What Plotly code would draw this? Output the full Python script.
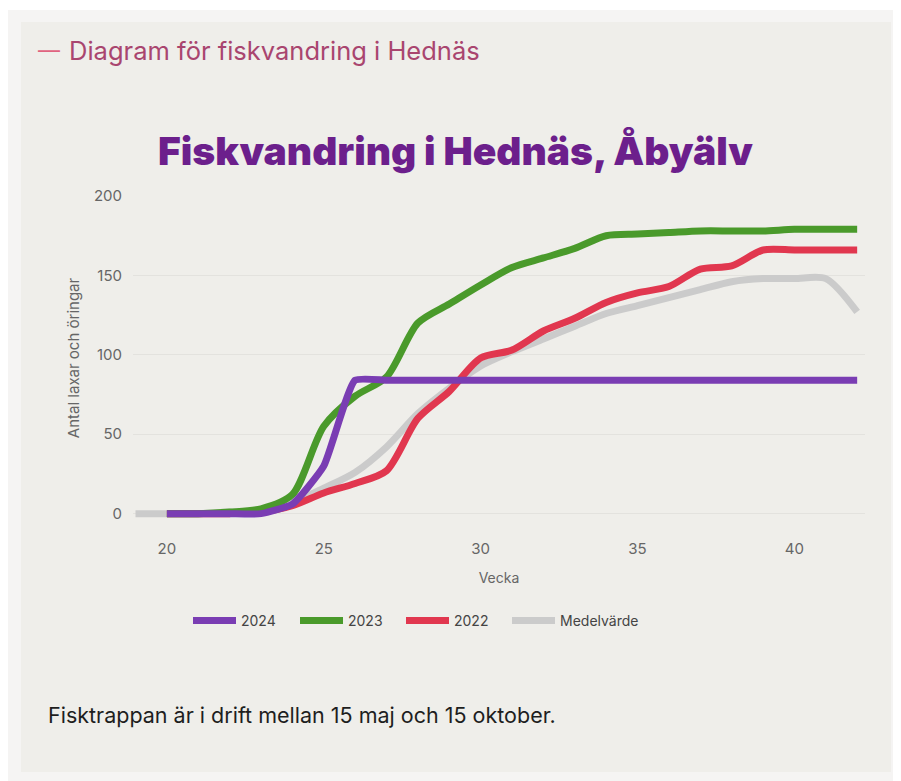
import plotly.graph_objects as go

# ---- data ----
weeks_avg = list(range(19, 43))
weeks = list(range(20, 43))

v2024 = [0, 0, 0, 0, 6, 30, 84, 84, 84, 84, 84, 84, 84, 84, 84, 84, 84, 84, 84, 84, 84, 84, 84]
v2023 = [0, 0, 1, 3, 12, 55, 74, 86, 120, 132, 144, 155, 161, 167, 175, 176, 177, 178, 178, 178, 179, 179, 179]
v2022 = [0, 0, 0, 1, 5, 13, 19, 27, 60, 77, 98, 103, 115, 123, 133, 139, 143, 154, 156, 166, 166, 166, 166]
vavg = [0, 0, 0, 1, 2, 7, 16, 26, 42, 63, 79, 93, 102, 110, 118, 126, 131, 136, 141, 146, 148, 148, 148, 127]

colors = {"2024": "#7a3db3", "2023": "#4a9a2b", "2022": "#e1374f", "Medelvärde": "#cbcbcb"}

# page has an 8px body margin; figure sized so the page is 901x781
OFF = 8
W, H = 901 - OFF, 781 - OFF
# plot area in reference-page pixels
L_ref, R_ref, T_ref, B_ref = 133, 865, 196, 520
L, R, T, B = L_ref - OFF, R_ref - OFF, T_ref - OFF, B_ref - OFF


def px(x):
    return (x - OFF - L) / (R - L)


def py(y):
    return (B - (y - OFF)) / (B - T)


fig = go.Figure()

# draw order: grey, red, green, purple (purple on top); each has its own legend box
fig.add_trace(go.Scatter(x=weeks_avg, y=vavg, name="Medelvärde", mode="lines", legend="legend4",
                         line=dict(color=colors["Medelvärde"], width=7, shape="spline", smoothing=0.8)))
fig.add_trace(go.Scatter(x=weeks, y=v2022, name="2022", mode="lines", legend="legend3",
                         line=dict(color=colors["2022"], width=7, shape="spline", smoothing=0.8)))
fig.add_trace(go.Scatter(x=weeks, y=v2023, name="2023", mode="lines", legend="legend2",
                         line=dict(color=colors["2023"], width=7, shape="spline", smoothing=0.8)))
fig.add_trace(go.Scatter(x=weeks, y=v2024, name="2024", mode="lines", legend="legend",
                         line=dict(color=colors["2024"], width=7, shape="spline", smoothing=0.45)))

shapes = [
    dict(type="rect", xref="paper", yref="paper", layer="below",
         x0=px(8), x1=px(905), y0=py(10), y1=py(790),
         fillcolor="#f5f4f3", line=dict(width=0)),
    dict(type="rect", xref="paper", yref="paper", layer="below",
         x0=px(21), x1=px(891), y0=py(22), y1=py(772),
         fillcolor="#efeeea", line=dict(width=0)),
]

font_family = "Inter, Lato, sans-serif"

annotations = [
    dict(text="—", x=px(36), y=py(50), xref="paper", yref="paper", xanchor="left", yanchor="middle",
         showarrow=False, font=dict(family=font_family, size=22, color="#e0637f")),
    dict(text="Diagram för fiskvandring i Hednäs", x=px(67), y=py(50), xref="paper", yref="paper",
         xanchor="left", yanchor="middle", showarrow=False,
         font=dict(family=font_family, size=25.5, color="#a9456f")),
    dict(text="Fiskvandring i Hednäs, Åbyälv", x=px(455), y=py(150), xref="paper", yref="paper",
         xanchor="center", yanchor="middle", showarrow=False,
         font=dict(family=font_family, size=39, color="#6c1f8c", weight=900)),
    dict(text="Fisktrappan är i drift mellan 15 maj och 15 oktober.", x=px(46), y=py(715),
         xref="paper", yref="paper", xanchor="left", yanchor="middle", showarrow=False,
         font=dict(family=font_family, size=21.5, color="#1e1e1e")),
]


def legend_at(xpix):
    return dict(orientation="h", x=px(xpix), xanchor="left", y=py(621), yanchor="middle",
                font=dict(size=14, color="#444444"), bgcolor="rgba(0,0,0,0)", itemwidth=43)


fig.update_layout(
    width=W, height=H,
    margin=dict(l=L, r=W - R, t=T, b=H - B, autoexpand=False),
    paper_bgcolor="#ffffff",
    plot_bgcolor="rgba(0,0,0,0)",
    font=dict(family=font_family, color="#666666", size=14),
    shapes=shapes,
    annotations=annotations,
    showlegend=True,
    legend=legend_at(188),
    legend2=legend_at(295),
    legend3=legend_at(401),
    legend4=legend_at(507),
    xaxis=dict(range=[18.92, 42.25], tickvals=[20, 25, 30, 35, 40], showgrid=False, zeroline=False,
               showline=False, ticks="", ticklabelstandoff=18, automargin=False,
               tickfont=dict(size=15, color="#666666"),
               title=dict(text="Vecka", font=dict(size=14, color="#666666"), standoff=16)),
    yaxis=dict(range=[-4, 200], tickvals=[0, 50, 100, 150, 200], showgrid=True, gridcolor="#e3e2de",
               gridwidth=1, zeroline=False, showline=False, ticks="", ticklabelstandoff=10,
               automargin=False, tickfont=dict(size=15, color="#666666"),
               title=dict(text="Antal laxar och öringar", font=dict(size=15, color="#666666"), standoff=10)),
)

fig.write_html("out.html")
